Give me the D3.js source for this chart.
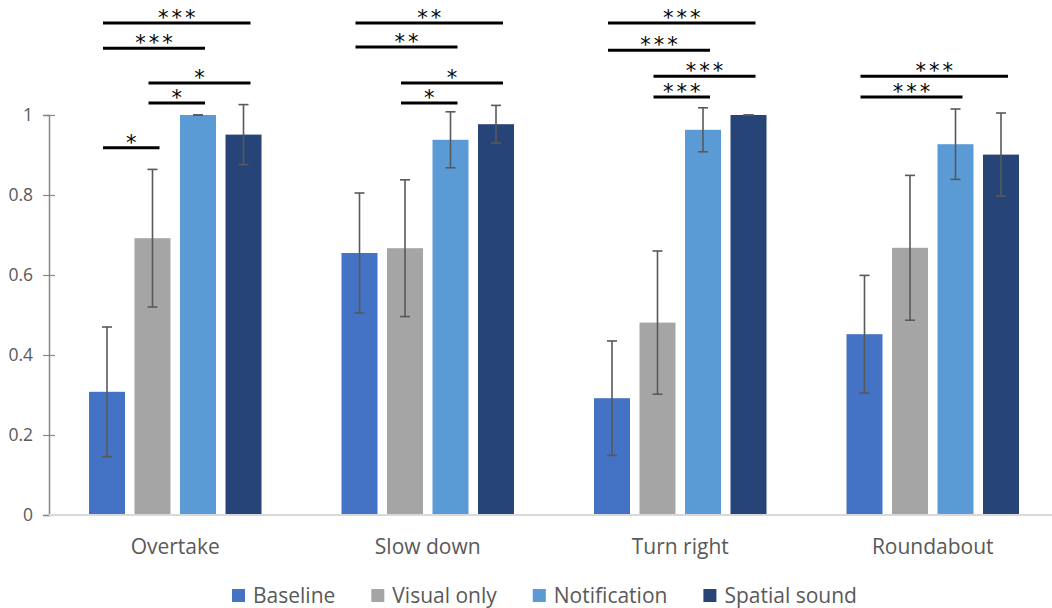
<!DOCTYPE html>
<html>
<head>
<meta charset="utf-8">
<script src="https://cdn.jsdelivr.net/npm/d3@7"></script>
<style>
  body { margin: 0; background: #fff; }
  svg { display: block; font-family: "Open Sans", sans-serif; }
</style>
</head>
<body>
<svg id="chart" width="1052" height="608"></svg>
<script>
// data
const categories = ['Overtake', 'Slow down', 'Turn right', 'Roundabout'];
const series = ['Baseline', 'Visual only', 'Notification', 'Spatial sound'];
const colors = ['#4472C4', '#A5A5A5', '#5B9BD5', '#264478'];

const baseline     = [0.308, 0.655, 0.292, 0.452];
const visualOnly   = [0.692, 0.667, 0.481, 0.668];
const notification = [1.000, 0.938, 0.963, 0.927];
const spatialSound = [0.951, 0.977, 1.000, 0.901];

const baselineErr     = [0.162, 0.150, 0.143, 0.147];
const visualOnlyErr   = [0.172, 0.171, 0.179, 0.181];
const notificationErr = [0.000, 0.070, 0.055, 0.088];
const spatialSoundErr = [0.075, 0.047, 0.000, 0.104];

const yTicks = [0, 0.2, 0.4, 0.6, 0.8, 1];

// significance brackets: category, from series, to series, height, stars
const brackets = [
  ['Overtake', 0, 3, 1.230, '***'],
  ['Overtake', 0, 2, 1.167, '***'],
  ['Overtake', 1, 3, 1.080, '*'],
  ['Overtake', 1, 2, 1.030, '*'],
  ['Overtake', 0, 1, 0.918, '*'],
  ['Slow down', 0, 3, 1.230, '**'],
  ['Slow down', 0, 2, 1.170, '**'],
  ['Slow down', 1, 3, 1.080, '*'],
  ['Slow down', 1, 2, 1.030, '*'],
  ['Turn right', 0, 3, 1.230, '***'],
  ['Turn right', 0, 2, 1.162, '***'],
  ['Turn right', 1, 3, 1.097, '***'],
  ['Turn right', 1, 2, 1.045, '***'],
  ['Roundabout', 0, 3, 1.097, '***'],
  ['Roundabout', 0, 2, 1.045, '***']
];

const values = [baseline, visualOnly, notification, spatialSound];
const errors = [baselineErr, visualOnlyErr, notificationErr, spatialSoundErr];

const svg = d3.select('#chart');
const textColor = '#595959';

// scales
const x0 = d3.scaleBand()
  .domain(categories)
  .range([49, 1059]);

const x1 = d3.scaleBand()
  .domain(series)
  .range([40, 212.5])
  .paddingInner(0.209);

const y = d3.scaleLinear()
  .domain([0, 1])
  .range([515, 115]);

// y axis: grey line with ticks crossing it
const yAxis = d3.axisLeft(y)
  .tickValues(yTicks)
  .tickFormat(d3.format('~g'))
  .tickSize(6)
  .tickPadding(10);

const yg = svg.append('g')
  .attr('transform', 'translate(49,0)')
  .call(yAxis);
yg.select('.domain').attr('stroke', '#888').attr('stroke-width', 1.5);
yg.selectAll('.tick line').attr('stroke', '#888').attr('stroke-width', 1.2).attr('x2', 6).attr('x1', -6);
yg.selectAll('.tick text')
  .attr('fill', textColor)
  .attr('font-size', 17.5)
  .attr('font-family', '"Open Sans", sans-serif');

// flatten into bar records
const bars = [];
categories.forEach((c, ci) => {
  series.forEach((s, si) => {
    bars.push({ cat: c, ser: s, si: si, v: values[si][ci], e: errors[si][ci] });
  });
});

const barX = d => x0(d.cat) + x1(d.ser);
const barMid = d => barX(d) + x1.bandwidth() / 2;

// bars
svg.append('g').selectAll('rect')
  .data(bars)
  .enter()
  .append('rect')
  .attr('x', barX)
  .attr('y', d => y(d.v))
  .attr('width', x1.bandwidth())
  .attr('height', d => y(0) - y(d.v))
  .attr('fill', d => colors[d.si]);

// x axis baseline
svg.append('line')
  .attr('x1', 49).attr('x2', 1059)
  .attr('y1', y(0)).attr('y2', y(0))
  .attr('stroke', '#d9d9d9')
  .attr('stroke-width', 2);

// error bars
const eg = svg.append('g')
  .attr('stroke', '#595959')
  .attr('stroke-width', 1.6);

eg.selectAll('.err-v')
  .data(bars)
  .enter()
  .append('line')
  .attr('x1', barMid).attr('x2', barMid)
  .attr('y1', d => y(d.v - d.e))
  .attr('y2', d => y(d.v + d.e));

eg.selectAll('.err-top')
  .data(bars)
  .enter()
  .append('line')
  .attr('x1', d => barMid(d) - 5).attr('x2', d => barMid(d) + 5)
  .attr('y1', d => y(d.v + d.e)).attr('y2', d => y(d.v + d.e));

eg.selectAll('.err-bot')
  .data(bars)
  .enter()
  .append('line')
  .attr('x1', d => barMid(d) - 5).attr('x2', d => barMid(d) + 5)
  .attr('y1', d => y(d.v - d.e)).attr('y2', d => y(d.v - d.e));

// category labels
svg.append('g').selectAll('text')
  .data(categories)
  .enter()
  .append('text')
  .attr('x', d => x0(d) + x0.bandwidth() / 2)
  .attr('y', 554)
  .attr('text-anchor', 'middle')
  .attr('font-size', 21)
  .attr('fill', textColor)
  .text(d => d);

// significance brackets
const seriesMid = (c, i) => x0(c) + x1(series[i]) + x1.bandwidth() / 2;
const bg = svg.append('g');
brackets.forEach(b => {
  const [c, from, to, level, label] = b;
  const xa = seriesMid(c, from) - 4;
  const xb = seriesMid(c, to) + 7;
  bg.append('line')
    .attr('x1', xa).attr('x2', xb)
    .attr('y1', y(level)).attr('y2', y(level))
    .attr('stroke', '#000')
    .attr('stroke-width', 3);
  bg.append('text')
    .attr('x', (xa + xb) / 2 + 1.5)
    .attr('y', y(level) + 2)
    .attr('text-anchor', 'middle')
    .attr('font-family', '"DejaVu Sans", sans-serif')
    .attr('font-size', 21)
    .attr('letter-spacing', 3)
    .attr('fill', '#000')
    .text(label);
});

// legend
const lg = svg.append('g');
let lx = 232;
series.forEach((s, i) => {
  lg.append('rect')
    .attr('x', lx).attr('y', 589)
    .attr('width', 13).attr('height', 13)
    .attr('fill', colors[i]);
  const t = lg.append('text')
    .attr('x', lx + 21).attr('y', 603)
    .attr('font-size', 21)
    .attr('fill', textColor)
    .text(s);
  lx += 21 + t.node().getComputedTextLength() + 36;
});
</script>
</body>
</html>
